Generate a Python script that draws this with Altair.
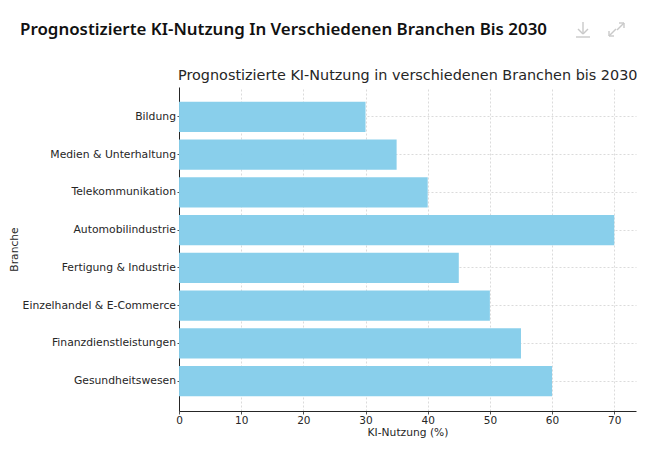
import altair as alt
import pandas as pd

branches = ["Bildung", "Medien & Unterhaltung", "Telekommunikation", "Automobilindustrie",
            "Fertigung & Industrie", "Einzelhandel & E-Commerce", "Finanzdienstleistungen", "Gesundheitswesen"]
values = [30, 35, 40, 70, 45, 50, 55, 60]
x_ticks = [0, 10, 20, 30, 40, 50, 60, 70]
chart_title = "Prognostizierte KI-Nutzung in verschiedenen Branchen bis 2030"
card_title = "Prognostizierte KI-Nutzung In Verschiedenen Branchen Bis 2030"

df = pd.DataFrame({"Branche": branches, "Nutzung": values})

LEFT, TOP = 171, 79
W, H = 457, 324
GRID = "#cbcbcb"
TEXT = "#262626"

y_scale = alt.Scale(domain=branches, paddingInner=0.2, paddingOuter=0.39)
x_scale = alt.Scale(domain=[0, 73.5], nice=False)

bars = alt.Chart(df).mark_bar(color="#87CEEB", opacity=0.98).encode(
    x=alt.X("Nutzung:Q", scale=x_scale,
            axis=alt.Axis(title="KI-Nutzung (%)", values=x_ticks, grid=True, gridDash=[2, 2],
                          gridColor=GRID, gridWidth=0.7, domainColor=TEXT, tickColor=TEXT,
                          tickSize=3, labelFontSize=10.5, titleFontSize=10.7, labelPadding=1,
                          titlePadding=2, labelColor=TEXT, titleColor=TEXT, labelFlush=False,
                          labelFont="DejaVu Sans", titleFont="DejaVu Sans", titleFontWeight="normal",
                          domainWidth=1, tickWidth=0.8)),
    y=alt.Y("Branche:N", scale=y_scale,
            axis=alt.Axis(title="Branche", grid=True, gridDash=[2, 2], gridColor=GRID, gridWidth=0.7,
                          domainColor=TEXT, tickColor=TEXT, tickSize=2, labelFontSize=10.8,
                          titleFontSize=10.7, labelPadding=1.5, titlePadding=3, labelColor=TEXT,
                          titleColor=TEXT, labelFont="DejaVu Sans", titleFont="DejaVu Sans",
                          titleFontWeight="normal", domainWidth=1, tickWidth=0.8, labelLimit=200)),
)

one = alt.Chart(pd.DataFrame({"a": [0]}))


def px(x):
    return x - 8 - LEFT


def py(y):
    return y - 8 - TOP


def label(text, x, y, **kw):
    return one.mark_text(text=text, align="left", baseline="middle", **kw).encode(
        x=alt.value(px(x)), y=alt.value(py(y)))


def seg(x1, y1, x2, y2):
    return one.mark_rule(color="#c9c9c9", strokeWidth=1.4).encode(
        x=alt.value(px(x1)), x2=alt.value(px(x2)),
        y=alt.value(py(y1)), y2=alt.value(py(y2)))


layers = [
    bars,
    label(card_title, 20, 30, font="Noto Sans", fontSize=16.9, fontWeight=600, color="#111111"),
    label(chart_title, 178, 76, font="DejaVu Sans", fontSize=14.4, color=TEXT),
    # download icon
    seg(583, 22, 583, 33), seg(578, 29, 583, 34), seg(588, 29, 583, 34), seg(576, 37, 590, 37),
    # expand icon
    seg(617, 30, 624, 23), seg(619, 23, 624, 23), seg(624, 23, 624, 28),
    seg(616, 29, 609, 36), seg(609, 31, 609, 36), seg(609, 36, 614, 36),
]

chart = alt.layer(*layers).properties(
    width=W, height=H,
    padding={"left": LEFT, "top": TOP, "right": 1, "bottom": 32},
    autosize=alt.AutoSizeParams(type="none"),
).configure_view(stroke=None, clip=False)

chart.save("out.html", embed_options={"renderer": "svg", "actions": False})
